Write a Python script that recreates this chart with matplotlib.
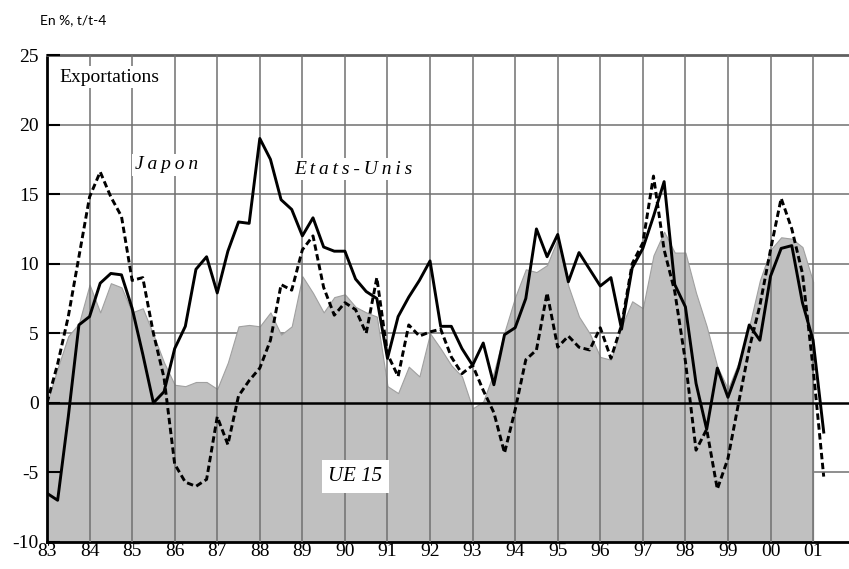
import numpy as np
import matplotlib
matplotlib.use("Agg")
import matplotlib.pyplot as plt

# quarterly growth of exports, t/t-4, from 1983 Q1
start_year = 83

etats_unis = [-6.5, -7.0, -1.0, 5.6, 6.2, 8.6, 9.3, 9.2, 6.8, 3.5,
              0.0, 0.8, 3.9, 5.5, 9.6, 10.5, 7.9, 10.9, 13.0, 12.9,
              19.0, 17.5, 14.6, 13.9, 12.0, 13.3, 11.2, 10.9, 10.9, 8.9,
              8.0, 7.5, 3.2, 6.2, 7.6, 8.8, 10.2, 5.5, 5.5, 3.9,
              2.7, 4.3, 1.3, 4.9, 5.4, 7.5, 12.5, 10.5, 12.1, 8.7,
              10.8, 9.6, 8.4, 9.0, 5.3, 9.7, 11.1, 13.4, 15.9, 8.5,
              6.9, 1.4, -1.9, 2.5, 0.4, 2.5, 5.6, 4.5, 9.1, 11.1,
              11.3, 7.2, 4.5, -2.1]

japon = [0.0, 2.8, 6.2, 10.5, 14.8, 16.6, 14.8, 13.4, 8.8, 9.0,
         5.0, 1.8, -4.4, -5.7, -6.0, -5.5, -1.0, -3.0, 0.5, 1.6,
         2.5, 4.5, 8.5, 8.1, 11.0, 12.0, 8.3, 6.3, 7.2, 6.7,
         5.0, 9.0, 3.5, 1.9, 5.6, 4.8, 5.1, 5.3, 3.3, 2.1,
         2.7, 0.9, -0.7, -3.6, -0.5, 3.1, 3.8, 7.9, 4.0, 4.8,
         4.0, 3.8, 5.4, 3.2, 5.6, 10.0, 11.5, 16.3, 11.0, 8.0,
         3.0, -3.4, -1.9, -6.2, -4.0, 0.0, 3.9, 7.0, 11.0, 14.7,
         12.5, 9.3, 2.5, -5.3]

ue15 = [0.0, 2.5, 4.8, 5.7, 8.5, 6.5, 8.6, 8.3, 6.5, 6.8,
        4.9, 2.9, 1.3, 1.2, 1.5, 1.5, 1.0, 2.9, 5.5, 5.6,
        5.5, 6.5, 4.9, 5.5, 9.1, 7.9, 6.5, 7.6, 7.8, 6.9,
        6.5, 6.2, 1.2, 0.7, 2.6, 1.9, 5.0, 3.9, 2.7, 1.9,
        -0.4, 0.1, 2.2, 5.1, 7.6, 9.6, 9.4, 9.9, 11.8, 8.4,
        6.2, 5.0, 3.3, 3.1, 5.5, 7.3, 6.8, 10.6, 12.3, 10.8,
        10.8, 7.9, 5.5, 2.6, 1.0, 2.9, 5.5, 8.8, 11.0, 11.9,
        11.8, 11.2, 8.7]

year_ticks = list(range(83, 102))
year_labels = ["%02d" % (y % 100) for y in year_ticks]
y_ticks = [-10, -5, 0, 5, 10, 15, 20, 25]

x_us = start_year + np.arange(len(etats_unis)) / 4
x_jp = start_year + np.arange(len(japon)) / 4
x_ue = start_year + np.arange(len(ue15)) / 4

fig = plt.figure(figsize=(8.49, 5.69), dpi=100)
ax = fig.add_axes([47 / 849, 1 - 542 / 569, 1 - 47 / 849, (542 - 55) / 569])
ax.set_xlim(83, 83 + (849 - 47) / 42.56)
ax.set_ylim(-10, 25)

serif = "Liberation Serif"

# horizontal grid sits under the grey area, vertical grid over it
for v in [-5, 5, 10, 15, 20]:
    ax.axhline(v, color="#707070", lw=1.1, zorder=1)

ax.fill_between(x_ue, -10, ue15, facecolor="#c0c0c0", edgecolor="#a0a0a0",
                lw=0.8, zorder=2)

for yr in year_ticks[1:]:
    ax.axvline(yr, color="#707070", lw=1.1, zorder=3)

ax.axhline(0, color="black", lw=1.8, zorder=4)

ax.plot(x_jp, japon, color="black", lw=2.1, ls=(0, (2.2, 1.2)), zorder=5)
ax.plot(x_us, etats_unis, color="black", lw=2.1, zorder=6)

for side in ["left", "bottom"]:
    ax.spines[side].set_linewidth(2.0)
    ax.spines[side].set_color("black")
ax.spines["top"].set_linewidth(2.0)
ax.spines["top"].set_color("#606060")
ax.spines["right"].set_visible(False)

ax.set_xticks(year_ticks)
ax.set_xticklabels(year_labels, fontfamily=serif, fontsize=14)
ax.set_yticks(y_ticks)
ax.set_yticklabels([str(v) for v in y_ticks], fontfamily=serif, fontsize=14)
ax.tick_params(axis="x", length=0, pad=1)
ax.tick_params(axis="y", direction="in", length=9, width=1.5, pad=6)
ax.set_axisbelow(False)

white = dict(facecolor="white", edgecolor="none", pad=2)
ax.text(83.3, 23.4, "Exportations", fontfamily=serif, fontsize=14,
        ha="left", va="center", bbox=white, zorder=8)
ax.text(85.8, 17.1, "J\u2009a\u2009p\u2009o\u2009n", fontfamily=serif,
        fontstyle="italic", fontsize=14, ha="center", va="center",
        bbox=white, zorder=8)
ax.text(90.2, 16.8, "E\u2009t\u2009a\u2009t\u2009s\u2009-\u2009U\u2009n\u2009i\u2009s",
        fontfamily=serif, fontstyle="italic", fontsize=14, ha="center",
        va="center", bbox=white, zorder=8)
ax.text(90.25, -5.3, "UE 15", fontfamily=serif, fontstyle="italic",
        fontsize=15, ha="center", va="center",
        bbox=dict(facecolor="white", edgecolor="none", pad=5), zorder=8)

fig.text(40 / 849, 1 - 20 / 569, "En %, t/t-4", fontfamily="Lato",
         fontsize=10, ha="left", va="center")

fig.savefig("out.png", dpi=100)
